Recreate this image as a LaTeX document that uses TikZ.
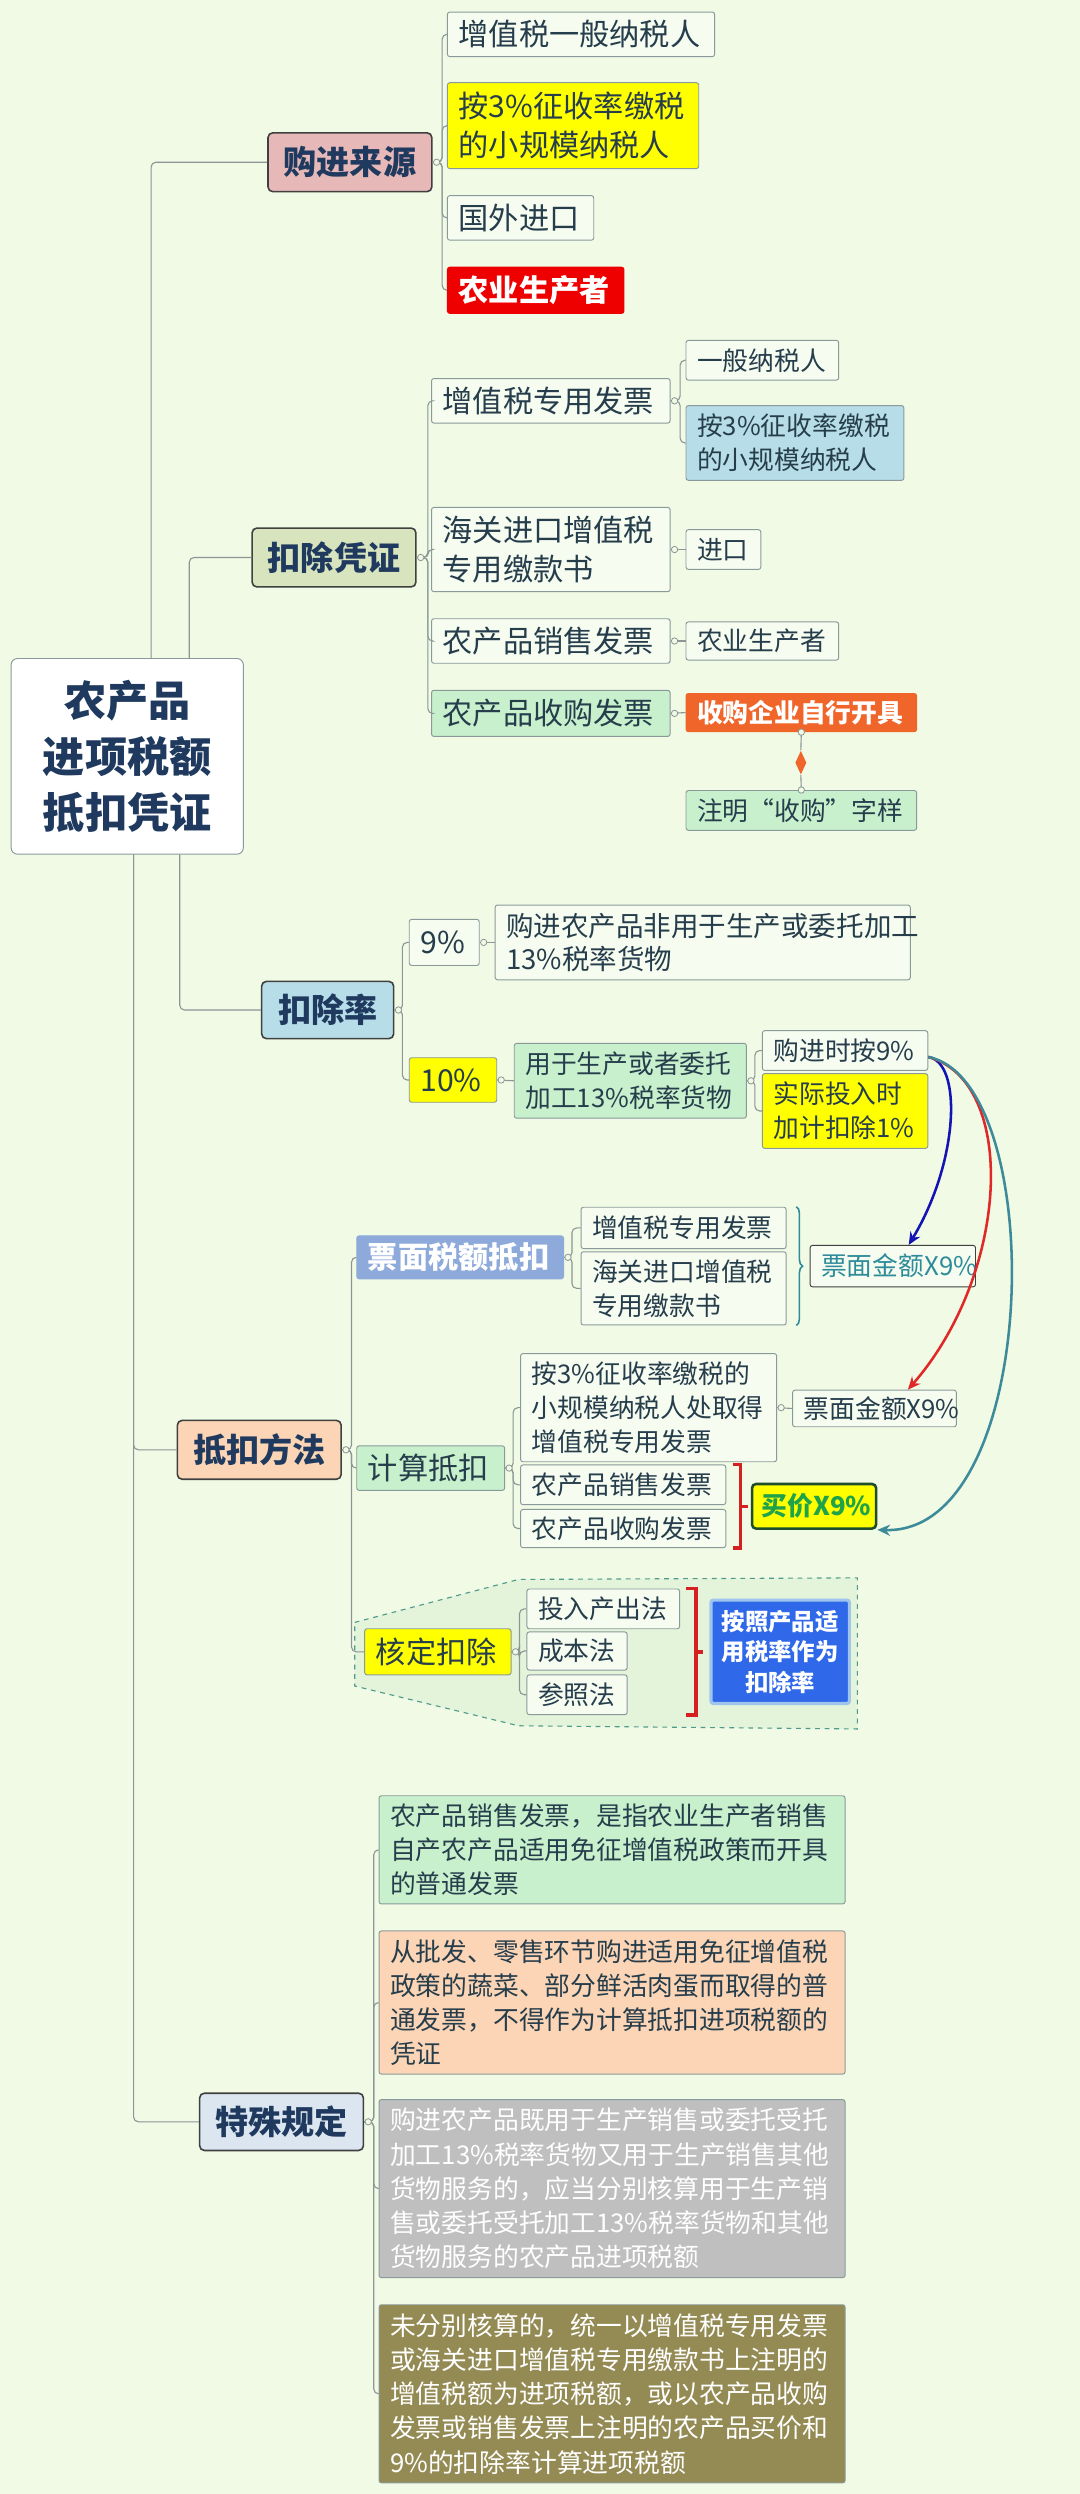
\documentclass[tikz,border=0pt]{standalone}
\usepackage{fontspec}
\setmainfont{Noto Sans CJK SC}
\usetikzlibrary{arrows.meta,decorations.pathreplacing,shapes.geometric}

\definecolor{bg}{HTML}{F0FAE4}
\definecolor{boxfill}{HTML}{F6FCF0}
\definecolor{boxline}{HTML}{8A9A9A}
\definecolor{linec}{HTML}{8C9696}
\definecolor{txt}{HTML}{263D4C}
\definecolor{navy}{HTML}{1F3A5E}
\definecolor{topicline}{HTML}{404040}
\definecolor{pinkc}{HTML}{E6B9B8}
\definecolor{olivec}{HTML}{D7E4BD}
\definecolor{bluec}{HTML}{B7DDE8}
\definecolor{peachc}{HTML}{FBD5B5}
\definecolor{greyblue}{HTML}{DCE6F1}
\definecolor{lgreen}{HTML}{C8F0CC}
\definecolor{yel}{HTML}{FFFF00}
\definecolor{redc}{HTML}{EE0000}
\definecolor{orangec}{HTML}{F0652A}
\definecolor{tblue}{HTML}{8EAADB}
\definecolor{dblue}{HTML}{2F68E8}
\definecolor{glow}{HTML}{9FC5EE}
\definecolor{tealtxt}{HTML}{2E8B9A}
\definecolor{arrblue}{HTML}{1414B4}
\definecolor{arrred}{HTML}{E02828}
\definecolor{arrteal}{HTML}{3D8A9A}
\definecolor{brred}{HTML}{D42020}
\definecolor{callfill}{HTML}{E3F4DA}
\definecolor{callline}{HTML}{4F9A8C}
\definecolor{greyc}{HTML}{BFBFBF}
\definecolor{olivedark}{HTML}{948B54}
\definecolor{dgreen}{HTML}{1E4D2B}
\definecolor{gtext}{HTML}{1FA34A}

\begin{document}
\begin{tikzpicture}[x = 1pt, y = -1pt,
	box/.style = {draw = boxline, fill = boxfill, rounded corners = 1.5pt, line width = 0.6pt, inner xsep = 7pt, inner ysep = 0pt, anchor = west, align = left, text = txt},
	f2/.style = {font = \fontsize{19}{24.5}\selectfont},
	b2/.style = {font = \bfseries\fontsize{19}{24.5}\selectfont},
	f3/.style = {font = \fontsize{16.2}{21.5}\selectfont},
	b3/.style = {font = \bfseries\fontsize{16.2}{21.5}\selectfont},
	topic/.style = {box, draw = topicline, line width = 1pt, rounded corners = 3pt, align = center, text = navy, font = \bfseries\fontsize{20.8}{26}\selectfont, inner xsep = 9pt, text width = 85pt, minimum height = 37pt},
	sp/.style = {box, f3, text width = 279pt},
	link/.style = {draw = linec, line width = 0.7pt, rounded corners = 3pt},
	knob/.style = {draw = linec, fill = bg, line width = 0.5pt},
	arr/.style = {line width = 1.6pt, -{Stealth[length = 8pt, width = 7pt]}},
	brk/.style = {draw = brred, line width = 2.2pt}]
	\fill[bg] (0,0) rectangle (679,1568);
	\useasboundingbox (0,0) rectangle (679,1568);
	
	\draw[callline, dashed, fill = callfill, line width = 0.7pt] (223,1020) -- (326,993) -- (539,992) -- (539,1087) -- (326,1085) -- (223,1060) -- cycle;
	
	\node[box, anchor = center, fill = white, rounded corners = 4pt, align = center, text = navy, font = \bfseries\fontsize{26.5}{35}\selectfont, text width = 132pt, minimum height = 123pt] (root) at (80,475.5) {农产品\\进项税额\\抵扣凭证};
	
	\node[topic, fill = pinkc] (gjly) at (168,102) {购进来源};
	\node[topic, fill = olivec] (kcpz) at (158,350.5) {扣除凭证};
	\node[topic, fill = bluec, text width = 65pt, minimum height = 36pt] (kcl) at (164,635) {扣除率};
	\node[topic, fill = peachc] (dkff) at (111,911.5) {抵扣方法};
	\node[topic, fill = greyblue, minimum height = 36pt] (tsgd) at (125,1334) {特殊规定};
	
	\node[box, f2, text width = 154pt, minimum height = 28pt] (g1) at (281,21.6) {增值税一般纳税人};
	\node[box, f2, fill = yel, text width = 144pt, minimum height = 54pt] (g2) at (281,79) {按3\%征收率缴税\\的小规模纳税人};
	\node[box, f2, text width = 78pt, minimum height = 28pt] (g3) at (281,137) {国外进口};
	\node[box, b2, fill = redc, draw = redc, text = white, text width = 97pt, minimum height = 29pt] (g4) at (281,182.5) {农业生产者};
	
	\node[box, f2, text width = 136pt, minimum height = 28pt] (p1) at (271,252) {增值税专用发票};
	\node[box, f2, text width = 136pt, minimum height = 53pt] (p2) at (271,345.5) {海关进口增值税\\专用缴款书};
	\node[box, f2, text width = 136pt, minimum height = 28pt] (p3) at (271,403) {农产品销售发票};
	\node[box, f2, fill = lgreen, text width = 136pt, minimum height = 29pt] (p4) at (271,448.5) {农产品收购发票};
	\node[box, f3, text width = 82pt, minimum height = 25pt] (p11) at (431,226.5) {一般纳税人};
	\node[box, f3, fill = bluec, text width = 123pt, minimum height = 47pt] (p12) at (431,278.5) {按3\%征收率缴税\\的小规模纳税人};
	\node[box, f3, text width = 33pt, minimum height = 25pt] (p21) at (431,345.5) {进口};
	\node[box, f3, text width = 82pt, minimum height = 24pt] (p31) at (431,403) {农业生产者};
	\node[box, b3, fill = orangec, draw = orangec, text = white, text width = 131pt, minimum height = 24pt] (p41) at (431,448) {收购企业自行开具};
	\node[box, f3, fill = lgreen, text width = 131pt, minimum height = 25pt] (p42) at (431,509.5) {注明“收购”字样};
	\node[diamond, fill = orangec, inner sep = 0pt, minimum width = 7pt, minimum height = 15pt] (dia) at (503.5,479.5) {};
	
	\node[box, f2, text width = 30pt, minimum height = 29pt] (r1) at (257,592.5) {9\%};
	\node[box, font = \fontsize{17.3}{21}\selectfont, text width = 247pt, minimum height = 47pt] (r11) at (311,592.5) {购进农产品非用于生产或委托加工\\13\%税率货物};
	\node[box, f2, fill = yel, text width = 41pt, minimum height = 28pt] (r2) at (257,679) {10\%};
	\node[box, f3, fill = lgreen, text width = 132pt, minimum height = 47pt] (r21) at (323,679.5) {用于生产或者委托\\加工13\%税率货物};
	\node[box, f3, text width = 90pt, minimum height = 25pt] (r211) at (479,660.5) {购进时按9\%};
	\node[box, f3, fill = yel, text width = 90pt, minimum height = 47pt] (r212) at (479,698.5) {实际投入时\\加计扣除1\%};
	
	\node[box, b2, fill = tblue, draw = tblue, text = white, text width = 116pt, minimum height = 27pt] (m1) at (224,790.5) {票面税额抵扣};
	\node[box, f3, text width = 115pt, minimum height = 26pt] (m11) at (365,772) {增值税专用发票};
	\node[box, f3, text width = 115pt, minimum height = 46pt] (m12) at (365,810) {海关进口增值税\\专用缴款书};
	\node[box, f3, draw = topicline, text = tealtxt, text width = 90pt, minimum height = 26pt] (m13) at (509,796) {票面金额X9\%};
	\node[box, f2, fill = lgreen, text width = 79pt, minimum height = 28pt] (m2) at (224,923) {计算抵扣};
	\node[box, f3, text width = 147pt, minimum height = 68pt] (m21) at (327,885) {按3\%征收率缴税的\\小规模纳税人处取得\\增值税专用发票};
	\node[box, f3, text width = 89pt, minimum height = 23pt] (m211) at (498,885.5) {票面金额X9\%};
	\node[box, f3, text width = 115pt, minimum height = 25pt] (m22) at (327,933.5) {农产品销售发票};
	\node[box, f3, text width = 115pt, minimum height = 24pt] (m23) at (327,961) {农产品收购发票};
	\node[box, b3, fill = yel, draw = dgreen, line width = 1.6pt, rounded corners = 2.5pt, text = gtext, text width = 66pt, inner xsep = 6pt, minimum height = 28pt] (m24) at (472,947) {买价X9\%};
	\node[box, f2, fill = yel, text width = 78pt, minimum height = 29pt] (m3) at (229,1038.5) {核定扣除};
	\node[box, f3, text width = 82pt, minimum height = 25pt] (m31) at (331,1011.5) {投入产出法};
	\node[box, f3, text width = 49pt, minimum height = 24pt] (m32) at (331,1038) {成本法};
	\node[box, f3, text width = 49pt, minimum height = 25pt] (m33) at (331,1065.5) {参照法};
	\node[box, fill = dblue, draw = glow, line width = 2pt, text = white, align = center, font = \bfseries\fontsize{14.7}{19.3}\selectfont, text width = 75pt, inner xsep = 6pt, minimum height = 65pt] (m34) at (446,1038.5) {按照产品适\\用税率作为\\扣除率};
	
	\node[sp, fill = lgreen, minimum height = 68pt] (s1) at (238,1163) {农产品销售发票，是指农业生产者销售\\自产农产品适用免征增值税政策而开具\\的普通发票};
	\node[sp, fill = peachc, minimum height = 90pt] (s2) at (238,1259) {从批发、零售环节购进适用免征增值税\\政策的蔬菜、部分鲜活肉蛋而取得的普\\通发票，不得作为计算抵扣进项税额的\\凭证};
	\node[sp, fill = greyc, text = white, minimum height = 112pt] (s3) at (238,1376) {购进农产品既用于生产销售或委托受托\\加工13\%税率货物又用于生产销售其他\\货物服务的，应当分别核算用于生产销\\售或委托受托加工13\%税率货物和其他\\货物服务的农产品进项税额};
	\node[sp, fill = olivedark, text = white, minimum height = 112pt] (s4) at (238,1505) {未分别核算的，统一以增值税专用发票\\或海关进口增值税专用缴款书上注明的\\增值税额为进项税额，或以农产品收购\\发票或销售发票上注明的农产品买价和\\9\%的扣除率计算进项税额};
	
	\draw[link] ([xshift = 15pt]root.north) |- (gjly.west);
	\draw[link] ([xshift = 39pt]root.north) |- (kcpz.west);
	\draw[link] ([xshift = 33pt]root.south) |- (kcl.west);
	\draw[link] ([xshift = 4pt]root.south) |- (dkff.west);
	\draw[link] ([xshift = 4pt]root.south) |- (tsgd.west);
	
	\foreach \c in {g1,g2,g3,g4}
		\draw[link] (gjly.east) -- ++(6,0) |- (\c.west);
	\foreach \c in {p1,p2,p3,p4}
		\draw[link] (kcpz.east) -- ++(7,0) |- (\c.west);
	\foreach \c in {p11,p12}
		\draw[link] (p1.east) -- ++(6,0) |- (\c.west);
	\draw[link] (p2.east) -- (p21.west);
	\draw[link] (p3.east) -- (p31.west);
	\draw[link] (p4.east) -- (p41.west);
	\draw[link] (p41.south) -- (dia.north);
	\draw[link] (dia.south) -- (p42.north);
	\foreach \c in {r1,r2}
		\draw[link] (kcl.east) -- ++(5,0) |- (\c.west);
	\draw[link] (r1.east) -- (r11.west);
	\draw[link] (r2.east) -- (r21.west);
	\foreach \c in {r211,r212}
		\draw[link] (r21.east) -- ++(5,0) |- (\c.west);
	\foreach \c in {m1,m2,m3}
		\draw[link] (dkff.east) -- ++(6,0) |- (\c.west);
	\foreach \c in {m11,m12}
		\draw[link] (m1.east) -- ++(5,0) |- (\c.west);
	\foreach \c in {m21,m22,m23}
		\draw[link] (m2.east) -- ++(5,0) |- (\c.west);
	\draw[link] (m21.east) -- (m211.west);
	\foreach \c in {m31,m32,m33}
		\draw[link] (m3.east) -- ++(5,0) |- (\c.west);
	\foreach \c in {s1,s2,s3,s4}
		\draw[link] (tsgd.east) -- ++(6,0) |- (\c.west);
	
	\foreach \p in {gjly,kcpz,kcl,dkff,tsgd,p1,p2,p3,p4,r1,r2,r21,m1,m2,m3,m21}
		\draw[knob] ([xshift = 2.5pt]\p.east) circle (2pt);
	\draw[knob] (p41.south) circle (2pt);
	\draw[knob] (p42.north) circle (2pt);
	
	\draw[tealtxt, line width = 1pt, decorate, decoration = {brace, amplitude = 4pt}] ([xshift = 6pt]m11.north east) -- ([xshift = 6pt]m12.south east);
	\draw[brk] ([xshift = 4pt]m22.north east) -- ++(5,0) |- ([xshift = 4pt]m23.south east);
	\draw[brk] ([xshift = -7pt]m24.west) -- ([xshift = -2pt]m24.west);
	\draw[brk] ([xshift = 4pt]m31.north east) -- ++(6,0) |- ([xshift = 37pt]m33.south east);
	\draw[brk] ([xshift = -9pt]m34.west) -- ([xshift = -4pt]m34.west);
	
	\draw[arr, arrblue] ([yshift = -4pt]r211.east) .. controls (605,668) and (603,730) .. ([xshift = 10pt]m13.north);
	\draw[arr, arrred] ([yshift = -4pt]r211.east) .. controls (640,680) and (635,800) .. ([xshift = 21pt]m211.north);
	\draw[arr, arrteal] ([yshift = -4pt]r211.east) .. controls (660,680) and (655,965) .. (m24.south east);
\end{tikzpicture}
\end{document}
